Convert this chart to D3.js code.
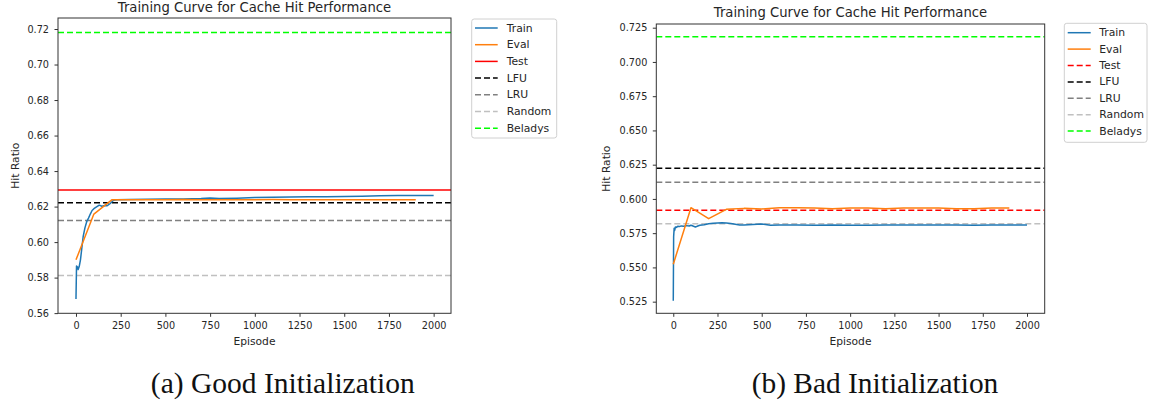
<!DOCTYPE html>
<html><head><meta charset="utf-8">
<script src="https://cdn.jsdelivr.net/npm/d3@7"></script>
<style>
html,body{margin:0;padding:0;background:#fff;}
svg{display:block;}
text{font-family:"DejaVu Sans",sans-serif;fill:#262626;}
</style></head>
<body>
<svg id="c" width="1149" height="402"></svg>
<script>
// ---------- DATA ----------
const chartTitle = "Training Curve for Cache Hit Performance";
const xLabel = "Episode";
const yLabel = "Hit Ratio";
const captions = ["(a) Good Initialization", "(b) Bad Initialization"];
const legendNames = ["Train", "Eval", "Test", "LFU", "LRU", "Random", "Beladys"];
const baselineNames = ["LFU", "LRU", "Random", "Beladys"];

const xTicks = [0, 250, 500, 750, 1000, 1250, 1500, 1750, 2000];
const yTicksA = [0.56, 0.58, 0.60, 0.62, 0.64, 0.66, 0.68, 0.70, 0.72];
const yTicksB = [0.525, 0.550, 0.575, 0.600, 0.625, 0.650, 0.675, 0.700, 0.725];

// (a) Good initialization
const trainEpA = [0,3,8,12,18,25,32,40,50,60,70,80,90,100,115,130,145,160,175,190,200,210,230,300,400,500,600,700,750,800,900,1000,1100,1200,1300,1400,1500,1600,1700,1800,1900,2000];
const trainValA = [0.568,0.5865,0.5860,0.5845,0.5862,0.5900,0.5960,0.6030,0.6080,0.6115,0.6135,0.6158,0.6178,0.6188,0.6198,0.6208,0.6202,0.6206,0.6205,0.6216,0.6226,0.6236,0.6239,0.6240,0.6241,0.6243,0.6242,0.6245,0.6248,0.6245,0.6247,0.6251,0.6252,0.6254,0.6255,0.6255,0.6257,0.6258,0.6261,0.6262,0.6263,0.6262];
const evalEpA = [0,100,200,300,400,500,600,700,800,900,1000,1100,1200,1300,1400,1500,1600,1700,1800,1900];
const evalValA = [0.590,0.6158,0.6238,0.6239,0.6238,0.6239,0.6240,0.6238,0.6239,0.6238,0.6239,0.6240,0.6239,0.6238,0.6239,0.6238,0.6239,0.6238,0.6238,0.6238];
const testA = 0.6293;
const baselineValA = [0.6221, 0.6122, 0.5812, 0.7181];

// (b) Bad initialization
const trainEpB = [0,2,5,8,12,18,25,35,45,60,75,90,100,115,125,135,150,175,200,225,250,275,300,325,350,375,400,450,500,550,600,700,800,900,1000,1100,1200,1300,1400,1500,1600,1700,1800,1900,2000];
const trainValB = [0.5257,0.5725,0.5785,0.5770,0.5795,0.5792,0.5800,0.5798,0.5803,0.5800,0.5805,0.5802,0.5808,0.5800,0.5795,0.5800,0.5808,0.5812,0.5818,0.5822,0.5825,0.5826,0.5824,0.5820,0.5815,0.5810,0.5810,0.5814,0.5817,0.5808,0.5810,0.5810,0.5808,0.5809,0.5807,0.5807,0.5809,0.5810,0.5810,0.5810,0.5809,0.5808,0.5809,0.5809,0.5810];
const evalEpB = [0,100,200,300,400,500,600,700,800,900,1000,1100,1200,1300,1400,1500,1600,1700,1800,1900];
const evalValB = [0.5523,0.5936,0.5856,0.5924,0.5931,0.5927,0.5936,0.5935,0.5934,0.5929,0.5933,0.5933,0.5929,0.5933,0.5933,0.5933,0.5929,0.5929,0.5933,0.5933];
const testB = 0.5917;
const baselineValB = [0.6224, 0.6122, 0.5819, 0.7184];

// ---------- STYLE ----------
const colors = {Train:"#1f77b4", Eval:"#ff7f0e", Test:"#ff0000", LFU:"#000000", LRU:"#808080", Random:"#c0c0c0", Beladys:"#00ff00"};
const dash = "6,3";
const fs = {title: 13.2, tick: 9.7, label: 10.7, legend: 10.8};

const svg = d3.select("#c");

function panel(cfg) {
  const g = svg.append("g");
  const x = d3.scaleLinear().domain(cfg.xDomain).range([cfg.left, cfg.right]);
  const y = d3.scaleLinear().domain(cfg.yDomain).range([cfg.bottom, cfg.top]);
  const clipId = "clip" + cfg.id;
  svg.append("clipPath").attr("id", clipId).append("rect")
    .attr("x", cfg.left).attr("y", cfg.top).attr("width", cfg.right - cfg.left).attr("height", cfg.bottom - cfg.top);
  const plot = g.append("g").attr("clip-path", `url(#${clipId})`);

  baselineNames.forEach((n, i) => {
    plot.append("line").attr("x1", cfg.left).attr("x2", cfg.right)
      .attr("y1", y(cfg.baselines[i])).attr("y2", y(cfg.baselines[i]))
      .attr("stroke", colors[n]).attr("stroke-width", 1.5).attr("stroke-dasharray", dash);
  });
  plot.append("line").attr("x1", cfg.left).attr("x2", cfg.right)
    .attr("y1", y(cfg.test)).attr("y2", y(cfg.test))
    .attr("stroke", colors.Test).attr("stroke-width", 1.5)
    .attr("stroke-dasharray", cfg.testDashed ? dash : null);

  const line = d3.line().x(d => x(d[0])).y(d => y(d[1]));
  const train = cfg.trainEp.map((e, i) => [e, cfg.trainVal[i]]);
  const ev = cfg.evalEp.map((e, i) => [e, cfg.evalVal[i]]);
  [["Train", train], ["Eval", ev]].forEach(([n, d]) => {
    plot.append("path").datum(d).attr("d", line).attr("fill", "none")
      .attr("stroke", colors[n]).attr("stroke-width", 1.5).attr("stroke-linejoin", "round");
  });

  const xa = g.append("g").attr("transform", `translate(0,${cfg.bottom})`)
    .call(d3.axisBottom(x).tickValues(xTicks).tickFormat(d3.format("d")).tickSize(3.5).tickPadding(5));
  const ya = g.append("g").attr("transform", `translate(${cfg.left},0)`)
    .call(d3.axisLeft(y).tickValues(cfg.yTicks).tickFormat(d3.format(cfg.yFmt)).tickSize(3.5).tickPadding(5.5));
  [xa, ya].forEach(a => {
    a.select(".domain").remove();
    a.selectAll("line").attr("stroke", "#333").attr("stroke-width", 1);
    a.selectAll("text").attr("font-family", "DejaVu Sans").attr("font-size", fs.tick).attr("fill", "#262626");
  });
  g.append("rect").attr("x", cfg.left).attr("y", cfg.top)
    .attr("width", cfg.right - cfg.left).attr("height", cfg.bottom - cfg.top)
    .attr("fill", "none").attr("stroke", "#333").attr("stroke-width", 1);

  g.append("text").attr("x", (cfg.left + cfg.right) / 2).attr("y", cfg.titleY)
    .attr("text-anchor", "middle").attr("font-size", fs.title).text(chartTitle);
  g.append("text").attr("x", (cfg.left + cfg.right) / 2).attr("y", cfg.xLabelY)
    .attr("text-anchor", "middle").attr("font-size", fs.label).text(xLabel);
  g.append("text").attr("transform", `translate(${cfg.yLabelX},${(cfg.top + cfg.bottom) / 2}) rotate(-90)`)
    .attr("text-anchor", "middle").attr("dominant-baseline", "central").attr("font-size", fs.label).text(yLabel);

  const L = cfg.legend;
  g.append("rect").attr("x", L.x).attr("y", L.y).attr("width", L.w).attr("height", L.h)
    .attr("rx", 2.5).attr("fill", "#fff").attr("stroke", "#d0d0d0").attr("stroke-width", 1);
  legendNames.forEach((n, i) => {
    const yy = L.row0 + i * L.step;
    const dashed = (n === "Test") ? cfg.testDashed : baselineNames.includes(n);
    g.append("line").attr("x1", L.lx1).attr("x2", L.lx2).attr("y1", yy).attr("y2", yy)
      .attr("stroke", colors[n]).attr("stroke-width", 1.5).attr("stroke-dasharray", dashed ? dash : null);
    g.append("text").attr("x", L.tx).attr("y", yy).attr("dominant-baseline", "central")
      .attr("font-size", fs.legend).text(n);
  });

  const cap = svg.append("text").attr("x", cfg.capX).attr("y", 393).attr("text-anchor", "middle")
    .style("font-family", '"Liberation Serif", serif').attr("font-size", 24).style("fill", "#111").text(cfg.caption);
  const w = cap.node().getComputedTextLength();
  cap.attr("font-size", 24 * cfg.capW / w);
}

panel({
  id: "A", left: 58, right: 451, top: 18, bottom: 313.3,
  xDomain: [-100.6, 2097], yDomain: [0.5599, 0.7262],
  yTicks: yTicksA, yFmt: ".2f",
  trainEp: trainEpA, trainVal: trainValA, evalEp: evalEpA, evalVal: evalValA,
  test: testA, testDashed: false, baselines: baselineValA,
  titleY: 12, xLabelY: 345, yLabelX: 15,
  legend: {x: 471.7, y: 19, w: 85, h: 119, row0: 28, step: 16.7, lx1: 475, lx2: 497.7, tx: 506.7},
  caption: captions[0], capX: 282.8, capW: 264
});
panel({
  id: "B", left: 656.3, right: 1044.7, top: 24, bottom: 313.3,
  xDomain: [-96, 2100], yDomain: [0.5165, 0.7277],
  yTicks: yTicksB, yFmt: ".3f",
  trainEp: trainEpB, trainVal: trainValB, evalEp: evalEpB, evalVal: evalValB,
  test: testB, testDashed: true, baselines: baselineValB,
  titleY: 17.3, xLabelY: 345, yLabelX: 606.7,
  legend: {x: 1064.3, y: 23.3, w: 82.7, h: 119, row0: 32.7, step: 16.4, lx1: 1067.7, lx2: 1090.7, tx: 1099.3},
  caption: captions[1], capX: 875, capW: 246.7
});
</script>
</body></html>
